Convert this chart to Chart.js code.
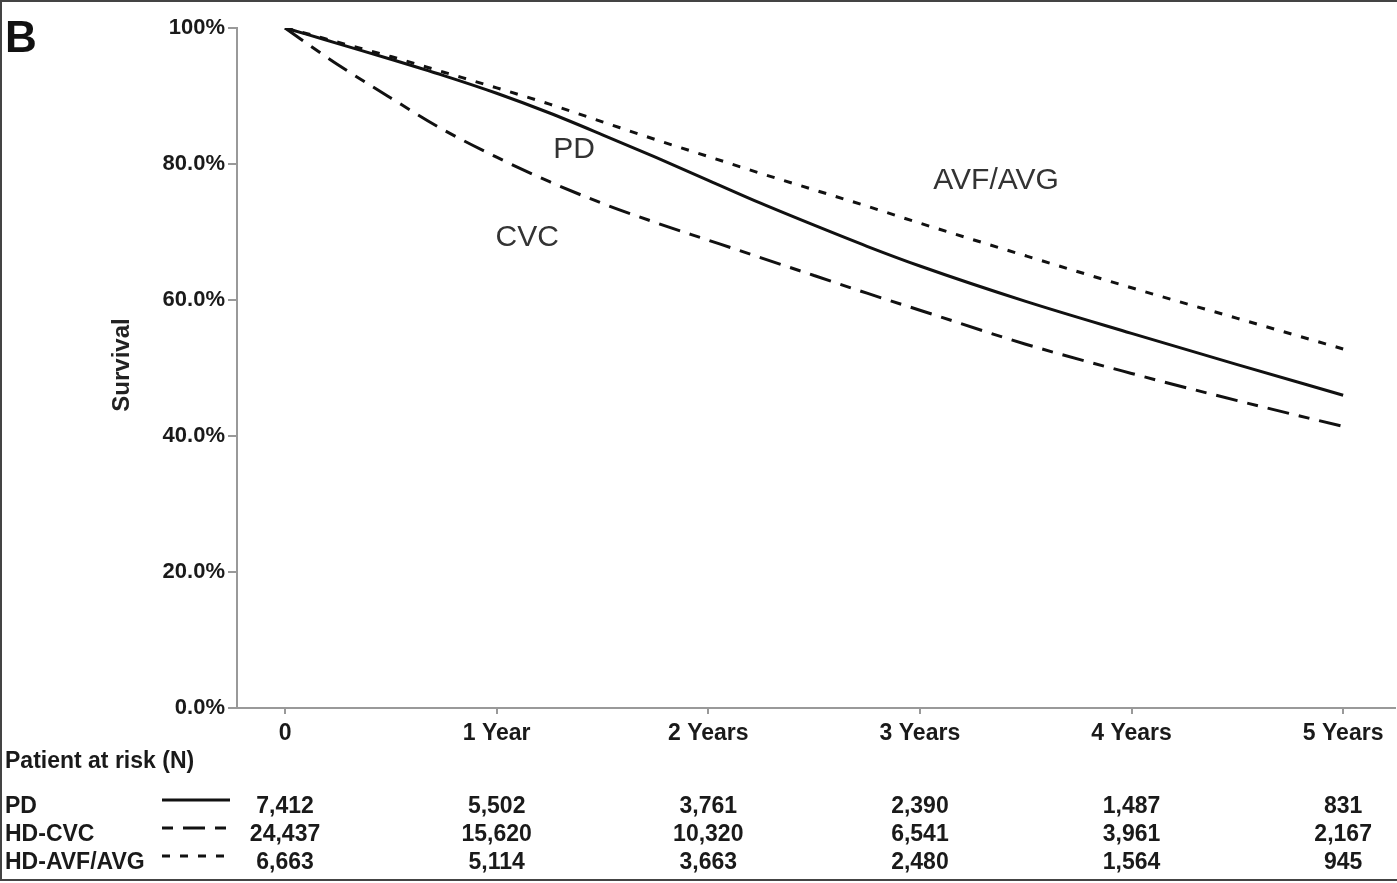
<!DOCTYPE html>
<html>
<head>
<meta charset="utf-8">
<title>Survival by access type</title>
<script src="https://cdn.jsdelivr.net/npm/chart.js@4/dist/chart.umd.min.js"></script>
<style>
  html, body { margin: 0; padding: 0; background: #fff; }
  #wrap { width: 1397px; height: 883px; }
</style>
</head>
<body>
<div id="wrap"><canvas id="kmChart" width="1397" height="883"></canvas></div>
<script>
  'use strict';

  // time points (years) where the curves were read
  var times   = [0, 0.1, 0.25, 0.5, 0.75, 1, 1.25, 1.5, 1.75, 2, 2.25, 2.5, 2.75, 3, 3.5, 4, 4.5, 5];
  // survival %
  var pdSurv  = [100, 99.1, 97.7, 95.4, 93.0, 90.4, 87.5, 84.3, 81.0, 77.6, 74.2, 71.0, 67.9, 65.0, 59.8, 55.1, 50.5, 46.0];
  var cvcSurv = [100, 97.8, 94.6, 89.7, 85.0, 81.0, 77.4, 74.2, 71.4, 68.8, 66.2, 63.6, 61.0, 58.5, 53.5, 49.2, 45.2, 41.4];
  var avfSurv = [100, 99.2, 97.9, 95.8, 93.5, 91.2, 88.8, 86.2, 83.6, 81.1, 78.6, 76.2, 73.8, 71.3, 66.5, 61.8, 57.3, 52.8];

  var xTickValues = [0, 1, 2, 3, 4, 5];
  var xTickLabels = ['0', '1 Year', '2 Years', '3 Years', '4 Years', '5 Years'];
  var yTickValues = [0, 20, 40, 60, 80, 100];
  var yTickLabels = ['0.0%', '20.0%', '40.0%', '60.0%', '80.0%', '100%'];

  // patients at risk table
  var riskRows = ['PD', 'HD-CVC', 'HD-AVF/AVG'];
  var pdRisk   = [7412, 5502, 3761, 2390, 1487, 831];
  var cvcRisk  = [24437, 15620, 10320, 6541, 3961, 2167];
  var avfRisk  = [6663, 5114, 3663, 2480, 1564, 945];

  // curve labels placed in data coordinates [years, survival]
  var curveLabels = ['PD', 'CVC', 'AVF/AVG'];
  var curveLabelPos = [[1.366, 82.1], [1.144, 69.1], [3.36, 77.6]];

  var FONT = '"Liberation Sans", Arial, Helvetica, sans-serif';
  var dashCVC = [22, 10, 11, 10];
  var dashAVF = [8, 10];

  function pts(vals) {
    return times.map(function (t, i) { return { x: t, y: vals[i] }; });
  }

  var lineDefaults = {
    borderColor: '#111',
    borderWidth: 3,
    pointRadius: 0,
    fill: false,
    cubicInterpolationMode: 'monotone'
  };

  var kmData = {
    datasets: [
      Object.assign({ label: 'PD', data: pts(pdSurv) }, lineDefaults),
      Object.assign({ label: 'HD-CVC', data: pts(cvcSurv), borderDash: dashCVC }, lineDefaults),
      Object.assign({ label: 'HD-AVF/AVG', data: pts(avfSurv), borderDash: dashAVF }, lineDefaults)
    ]
  };

  // background, frame, panel letter, axis title, curve labels and risk table
  var extras = {
    id: 'extras',
    beforeDraw: function (chart) {
      var c = chart.ctx;
      c.save();
      c.fillStyle = '#fff';
      c.fillRect(0, 0, chart.width, chart.height);
      c.restore();
    },
    afterDraw: function (chart) {
      var c = chart.ctx;
      var xs = chart.scales.x, ys = chart.scales.y;
      c.save();

      // frame
      c.strokeStyle = '#444';
      c.lineWidth = 2;
      c.beginPath();
      c.moveTo(1, 881); c.lineTo(1, 1); c.lineTo(1397, 1);
      c.moveTo(0, 880); c.lineTo(1397, 880);
      c.stroke();

      // panel letter
      c.fillStyle = '#111';
      c.font = 'bold 44px ' + FONT;
      c.textAlign = 'left';
      c.textBaseline = 'alphabetic';
      c.fillText('B', 5, 52);

      // y axis title
      c.save();
      c.translate(122, 365);
      c.rotate(-Math.PI / 2);
      c.font = 'bold 24px ' + FONT;
      c.textAlign = 'center';
      c.textBaseline = 'middle';
      c.fillStyle = '#222';
      c.fillText('Survival', 0, 0);
      c.restore();

      // curve labels
      c.font = '30px ' + FONT;
      c.fillStyle = '#333';
      c.textAlign = 'center';
      c.textBaseline = 'middle';
      curveLabels.forEach(function (lbl, i) {
        c.fillText(lbl, xs.getPixelForValue(curveLabelPos[i][0]), ys.getPixelForValue(curveLabelPos[i][1]));
      });

      // risk table
      c.fillStyle = '#1a1a1a';
      c.font = 'bold 23px ' + FONT;
      c.textAlign = 'left';
      c.fillText('Patient at risk (N)', 5, 762);

      var rowY = [807, 835, 863];
      var rowVals = [pdRisk, cvcRisk, avfRisk];
      var rowDash = [[], dashCVC, dashAVF];
      var rowOffset = [0, 32, 0];
      riskRows.forEach(function (name, r) {
        c.textAlign = 'left';
        c.fillText(name, 5, rowY[r]);

        c.save();
        c.strokeStyle = '#111';
        c.lineWidth = 3;
        c.setLineDash(rowDash[r]);
        c.lineDashOffset = rowOffset[r];
        c.beginPath();
        c.moveTo(162, rowY[r] - 7);
        c.lineTo(230, rowY[r] - 7);
        c.stroke();
        c.restore();

        c.textAlign = 'center';
        rowVals[r].forEach(function (v, j) {
          c.fillText(v.toLocaleString('en-US'), xs.getPixelForValue(xTickValues[j]), rowY[r]);
        });
      });

      c.restore();
    }
  };

  var kmOptions = {
    responsive: false,
    animation: false,
    layout: { padding: { top: 28, right: 2, left: 0, bottom: 0 } },
    plugins: {
      legend: { display: false },
      tooltip: { enabled: false }
    },
    scales: {
      x: {
        type: 'linear',
        min: -0.227,
        max: 5.245,
        afterBuildTicks: function (scale) {
          scale.ticks = xTickValues.map(function (v) { return { value: v }; });
        },
        afterFit: function (scale) { scale.height = 175; },
        grid: { drawOnChartArea: false, tickLength: 6, color: '#999', lineWidth: 2 },
        border: { color: '#999', width: 2 },
        ticks: {
          padding: 6,
          color: '#1a1a1a',
          font: { family: FONT, size: 23, weight: 'bold' },
          maxRotation: 0,
          callback: function (v, i) { return xTickLabels[i]; }
        }
      },
      y: {
        min: 0,
        max: 100,
        afterBuildTicks: function (scale) {
          scale.ticks = yTickValues.map(function (v) { return { value: v }; });
        },
        afterFit: function (scale) { scale.width = 237; },
        grid: { drawOnChartArea: false, tickLength: 9, color: '#999', lineWidth: 2 },
        border: { color: '#999', width: 2 },
        ticks: {
          padding: 3,
          color: '#1a1a1a',
          font: { family: FONT, size: 22, weight: 'bold' },
          callback: function (v, i) { return yTickLabels[i]; }
        }
      }
    }
  };

  var kmCanvas = document.getElementById('kmChart').getContext('2d');
  var kmChart = new Chart(kmCanvas, {
    type: 'line',
    data: kmData,
    options: kmOptions,
    plugins: [extras]
  });
</script>
</body>
</html>
